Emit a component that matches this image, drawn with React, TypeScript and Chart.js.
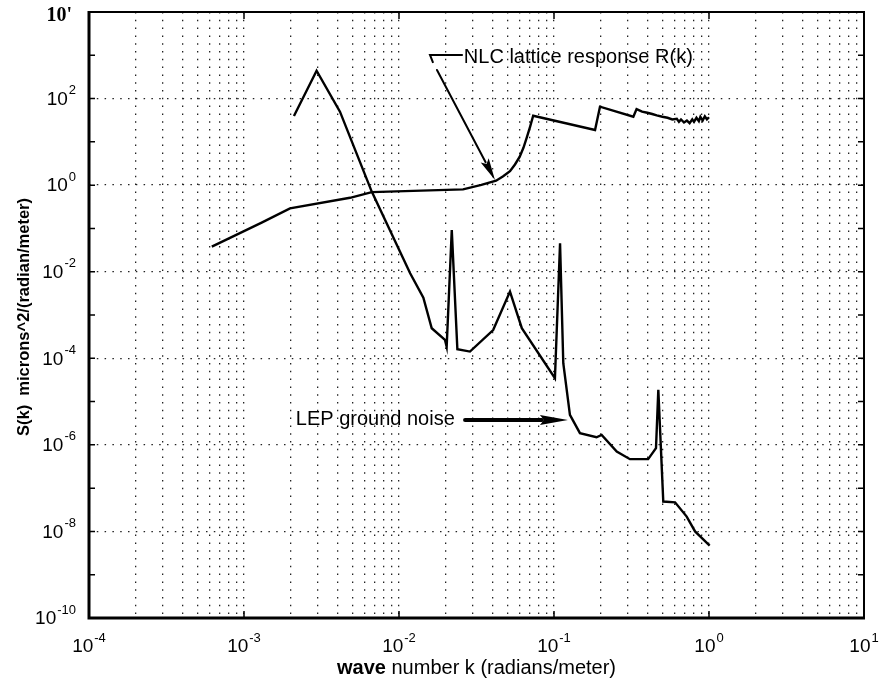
import { useEffect, useRef } from 'react';
import { Chart, registerables } from 'chart.js';

Chart.register(...registerables);

// ---- data ----
const nlcK = [6.2e-4, 1.3e-3, 1.98e-3, 4.83e-3, 6.67e-3, 0.0259, 0.034, 0.0423, 0.047, 0.052, 0.056, 0.06, 0.0635, 0.0667, 0.070, 0.0734, 0.184, 0.198, 0.325, 0.341, 0.37, 0.4, 0.43, 0.46, 0.5, 0.54, 0.58, 0.62, 0.64, 0.66, 0.69, 0.72, 0.75, 0.78, 0.8, 0.83, 0.86, 0.88, 0.91, 0.94, 0.97, 1.0];
const nlcS = [0.038, 0.136, 0.29, 0.51, 0.69, 0.8, 1.01, 1.27, 1.6, 2.1, 3.0, 4.5, 7.3, 12.5, 22, 40, 18.8, 65, 38, 57, 50, 47, 44, 41, 38, 36, 33, 34, 29, 33, 28, 31, 27, 33, 29, 36, 30, 38, 31, 39, 33, 37];

const lepK = [2.1e-3, 2.94e-3, 4.16e-3, 6.67e-3, 0.0118, 0.01436, 0.01626, 0.0198, 0.0203, 0.0219, 0.0238, 0.0287, 0.0405, 0.052, 0.062, 0.1014, 0.1094, 0.1148, 0.1267, 0.147, 0.188, 0.203, 0.254, 0.309, 0.405, 0.455, 0.471, 0.507, 0.604, 0.718, 0.813, 1.01];
const lepS = [39.6, 441, 49.8, 0.71, 0.0092, 2.5e-3, 4.95e-4, 2.66e-4, 1.86e-4, 0.092, 1.62e-4, 1.43e-4, 4.5e-4, 3.47e-3, 4.95e-4, 3.47e-5, 0.0455, 7.7e-5, 4.93e-6, 1.86e-6, 1.5e-6, 1.7e-6, 7.0e-7, 4.67e-7, 4.67e-7, 8.4e-7, 1.86e-5, 4.9e-8, 4.7e-8, 2.2e-8, 1e-8, 4.7e-9];

// tick labels (exponents of 10)
const xLabelExps = [-4, -3, -2, -1, 0, 1];
const yLabelExps = [-10, -8, -6, -4, -2, 0, 2];
const yTopLabel = "10'";
const xDecades = [-4, -3, -2, -1, 0];
const yDecades = [-10, -9, -8, -7, -6, -5, -4, -3, -2, -1, 0, 1, 2, 3, 4];
const mantissas = [1, 2, 3, 4, 5, 6, 7, 8, 9];

const xTitleBold = 'wave';
const xTitleRest = ' number k (radians/meter)';
const yTitle = 'S(k)  microns^2/(radian/meter)';
const nlcText = 'NLC lattice response R(k)';
const lepText = 'LEP ground noise';

// annotation anchors in data coordinates
const nlcTextAt = { k: 0.0262, s: 900 };
const nlcLeader = [{ k: 0.0166, s: 664 }, { k: 0.01585, s: 1017 }, { k: 0.0258, s: 1017 }];
const nlcArrow = { from: { k: 0.01758, s: 457 }, to: { k: 0.0416, s: 1.32 } };
const lepTextAt = { k: 0.0229, s: 3.77e-6 };
const lepArrow = { from: { k: 0.02667, s: 3.77e-6 }, to: { k: 0.123, s: 3.77e-6 } };

const SANS = '"Liberation Sans", Arial, Helvetica, sans-serif';

function drawArrow(ctx: CanvasRenderingContext2D, x1: number, y1: number, x2: number, y2: number, shaft: number, headLen: number, headW: number) {
  const a = Math.atan2(y2 - y1, x2 - x1);
  const bx = x2 - headLen * Math.cos(a);
  const by = y2 - headLen * Math.sin(a);
  ctx.save();
  ctx.strokeStyle = '#000';
  ctx.fillStyle = '#000';
  ctx.lineWidth = shaft;
  ctx.lineCap = 'round';
  ctx.beginPath();
  ctx.moveTo(x1, y1);
  ctx.lineTo(bx + 2 * Math.cos(a), by + 2 * Math.sin(a));
  ctx.stroke();
  ctx.beginPath();
  ctx.moveTo(x2, y2);
  ctx.lineTo(bx + (headW / 2) * Math.sin(a), by - (headW / 2) * Math.cos(a));
  ctx.lineTo(bx + 4 * Math.cos(a), by + 4 * Math.sin(a));
  ctx.lineTo(bx - (headW / 2) * Math.sin(a), by + (headW / 2) * Math.cos(a));
  ctx.closePath();
  ctx.fill();
  ctx.restore();
}

function drawPow(ctx: CanvasRenderingContext2D, exp: number, x: number, y: number, align: 'center' | 'right') {
  const base = '10';
  const sup = String(exp);
  ctx.font = `19px ${SANS}`;
  const wb = ctx.measureText(base).width;
  ctx.font = `13px ${SANS}`;
  const we = ctx.measureText(sup).width;
  const total = wb + we + 1;
  const sx = align === 'center' ? x - total / 2 : x - total;
  ctx.textAlign = 'left';
  ctx.textBaseline = 'middle';
  ctx.font = `19px ${SANS}`;
  ctx.fillText(base, sx, y);
  ctx.font = `13px ${SANS}`;
  ctx.fillText(sup, sx + wb + 1, y - 9);
}

const overlay = {
  id: 'overlay',
  afterDraw(chart: any) {
    const { ctx, chartArea, scales } = chart;
    const { left, right, top, bottom } = chartArea;
    const xs = scales.x;
    const ys = scales.y;
    const px = (k: number) => xs.getPixelForValue(k);
    const py = (s: number) => ys.getPixelForValue(s);
    ctx.save();
    ctx.fillStyle = '#000';
    ctx.strokeStyle = '#000';

    // axis box
    ctx.lineCap = 'butt';
    ctx.lineWidth = 2;
    ctx.beginPath();
    ctx.moveTo(left, top);
    ctx.lineTo(right, top);
    ctx.lineTo(right, bottom);
    ctx.stroke();
    ctx.lineWidth = 3;
    ctx.beginPath();
    ctx.moveTo(left, top - 1);
    ctx.lineTo(left, bottom);
    ctx.lineTo(right + 1, bottom);
    ctx.stroke();

    // inner tick marks
    ctx.lineWidth = 1.5;
    yDecades.forEach((e) => {
      const y = py(Math.pow(10, e));
      ctx.beginPath();
      ctx.moveTo(left, y);
      ctx.lineTo(left + 6, y);
      ctx.moveTo(right, y);
      ctx.lineTo(right - 6, y);
      ctx.stroke();
    });
    xLabelExps.forEach((e) => {
      const x = px(Math.pow(10, e));
      ctx.beginPath();
      ctx.moveTo(x, bottom);
      ctx.lineTo(x, bottom - 7);
      ctx.moveTo(x, top);
      ctx.lineTo(x, top + 7);
      ctx.stroke();
    });

    // tick labels
    xLabelExps.forEach((e) => drawPow(ctx, e, px(Math.pow(10, e)), bottom + 29, 'center'));
    yLabelExps.forEach((e) => drawPow(ctx, e, left - 13, py(Math.pow(10, e)) + 1, 'right'));
    ctx.font = `bold 20px "Liberation Serif", "Times New Roman", serif`;
    ctx.textAlign = 'right';
    ctx.textBaseline = 'middle';
    ctx.fillText(yTopLabel, left - 17, top + 4);

    // axis titles
    ctx.textBaseline = 'middle';
    ctx.font = `bold 20px ${SANS}`;
    const wb = ctx.measureText(xTitleBold).width;
    ctx.font = `20px ${SANS}`;
    const wr = ctx.measureText(xTitleRest).width;
    const cx = (left + right) / 2;
    const sx = cx - (wb + wr) / 2;
    ctx.textAlign = 'left';
    ctx.font = `bold 20px ${SANS}`;
    ctx.fillText(xTitleBold, sx, 668);
    ctx.font = `20px ${SANS}`;
    ctx.fillText(xTitleRest, sx + wb, 668);

    ctx.save();
    ctx.translate(24, (top + bottom) / 2 + 2);
    ctx.rotate(-Math.PI / 2);
    ctx.textAlign = 'center';
    ctx.font = `bold 16.5px ${SANS}`;
    ctx.fillText(yTitle, 0, 0);
    ctx.restore();

    // NLC annotation
    ctx.font = `20px ${SANS}`;
    ctx.textAlign = 'left';
    ctx.textBaseline = 'middle';
    ctx.fillText(nlcText, px(nlcTextAt.k), py(nlcTextAt.s));
    ctx.lineWidth = 2;
    ctx.beginPath();
    nlcLeader.forEach((p, i) => (i === 0 ? ctx.moveTo(px(p.k), py(p.s)) : ctx.lineTo(px(p.k), py(p.s))));
    ctx.stroke();
    drawArrow(ctx, px(nlcArrow.from.k), py(nlcArrow.from.s), px(nlcArrow.to.k), py(nlcArrow.to.s), 2, 22, 9);

    // LEP annotation
    ctx.font = `20px ${SANS}`;
    ctx.textAlign = 'right';
    ctx.textBaseline = 'middle';
    ctx.fillText(lepText, px(lepTextAt.k), py(lepTextAt.s));
    drawArrow(ctx, px(lepArrow.from.k), py(lepArrow.from.s), px(lepArrow.to.k), py(lepArrow.to.s), 4, 28, 10);

    ctx.restore();
  },
};

const App = () => {
  const ref = useRef<HTMLCanvasElement>(null);
  useEffect(() => {
    document.body.style.margin = '0';
    const canvas = ref.current;
    if (!canvas) return;
    const xGrid: number[] = [];
    xDecades.forEach((e) => mantissas.forEach((m) => xGrid.push(m * Math.pow(10, e))));
    xGrid.push(10);
    const yGrid = yDecades.map((e) => Math.pow(10, e));

    const chart = new Chart(canvas, {
      type: 'scatter',
      data: {
        datasets: [
          {
            label: nlcText,
            data: nlcK.map((k, i) => ({ x: k, y: nlcS[i] })),
            showLine: true,
            borderColor: '#000',
            backgroundColor: '#000',
            borderWidth: 2.4,
            pointRadius: 0,
            tension: 0,
          },
          {
            label: lepText,
            data: lepK.map((k, i) => ({ x: k, y: lepS[i] })),
            showLine: true,
            borderColor: '#000',
            backgroundColor: '#000',
            borderWidth: 2.4,
            pointRadius: 0,
            tension: 0,
          },
        ],
      },
      options: {
        responsive: false,
        animation: false,
        layout: { padding: { top: 12, right: 15, left: 0, bottom: 0 } },
        plugins: { legend: { display: false }, tooltip: { enabled: false } },
        scales: {
          x: {
            type: 'logarithmic',
            position: 'bottom',
            min: 1e-4,
            max: 10,
            afterBuildTicks: (s: any) => {
              s.ticks = xGrid.map((v) => ({ value: v }));
            },
            afterFit: (s: any) => {
              s.height = 62;
            },
            ticks: { display: false },
            grid: { color: '#222', lineWidth: 1.3, drawTicks: false, tickLength: 0 },
            border: { display: false, dash: [1.5, 6.3] },
          },
          y: {
            type: 'logarithmic',
            position: 'left',
            min: 1e-10,
            max: 1e4,
            afterBuildTicks: (s: any) => {
              s.ticks = yGrid.map((v) => ({ value: v }));
            },
            afterFit: (s: any) => {
              s.width = 89;
            },
            ticks: { display: false },
            grid: {
              color: (c: any) => {
                const v = c.tick ? c.tick.value : 1;
                const e = Math.round(Math.log10(v));
                return Math.abs(e) % 2 === 0 ? '#222' : 'rgba(0,0,0,0)';
              },
              lineWidth: 1.3,
              drawTicks: false,
              tickLength: 0,
            },
            border: { display: false, dash: [1.5, 6.3] },
          },
        },
      } as any,
      plugins: [overlay],
    });
    return () => chart.destroy();
  }, []);
  return <canvas ref={ref} width={879} height={680} style={{ display: 'block' }} />;
};

export default App;
